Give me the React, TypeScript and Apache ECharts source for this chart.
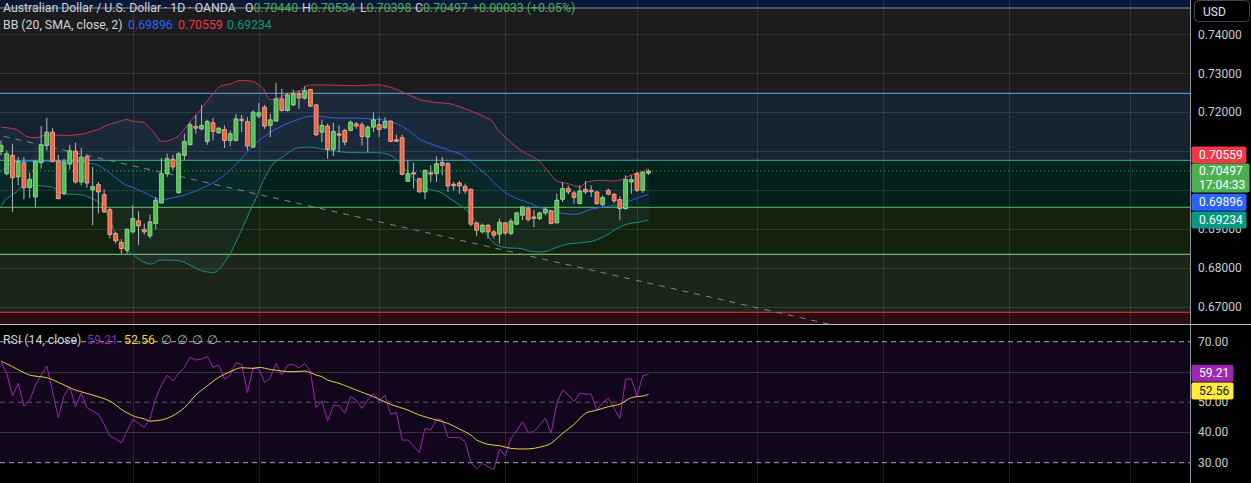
import React, { useEffect, useRef } from "react";
import * as echarts from "echarts";

// ---------- data ----------
const opens = [0.71000,0.70427,0.70897,0.70342,0.70709,0.70068,0.69829,0.70709,0.71154,0.71496,
0.70752,0.69915,0.70675,0.71009,0.70214,0.70863,0.70009,0.70145,0.69889,0.69504,
0.68889,0.68658,0.68462,0.68932,0.69214,0.68991,0.68829,0.69145,0.69675,0.70427,
0.70795,0.69940,0.70897,0.71171,0.71641,0.71581,0.71256,0.71735,0.71479,0.71564,
0.71282,0.71282,0.71829,0.71769,0.71111,0.71906,0.72137,0.71667,0.71778,0.72350,
0.72051,0.72196,0.72479,0.72368,0.72590,0.72196,0.71496,0.71649,0.71051,0.71453,
0.71539,0.71539,0.71709,0.71684,0.71368,0.71624,0.71684,0.71607,0.71778,0.71299,
0.71351,0.70231,0.70453,0.70299,0.69957,0.70453,0.70427,0.70718,0.70684,0.70154,
0.70188,0.70103,0.70026,0.69162,0.68932,0.69103,0.68932,0.68872,0.69162,0.68889,
0.69128,0.69359,0.69530,0.69316,0.69274,0.69419,0.69470,0.69162,0.69769,0.70043,
0.69932,0.69658,0.70026,0.70000,0.69957,0.69632,0.70000,0.69897,0.69761,0.69530,
0.70214,0.70427,0.70000,0.70440];
const closes = [0.71154,0.70940,0.70325,0.70743,0.70060,0.70282,0.70743,0.71171,0.71496,0.70743,
0.69786,0.70726,0.71017,0.70214,0.70855,0.70188,0.70094,0.69957,0.69444,0.68863,
0.68701,0.68504,0.69000,0.69274,0.69086,0.68932,0.69188,0.69744,0.70427,0.70812,
0.70598,0.70940,0.71256,0.71684,0.71598,0.71667,0.71769,0.71513,0.71598,0.71282,
0.71453,0.71838,0.71803,0.71137,0.72008,0.71991,0.71649,0.71812,0.72350,0.72051,
0.72453,0.72479,0.72376,0.72564,0.72162,0.71427,0.71667,0.71051,0.71513,0.71427,
0.71239,0.71752,0.71649,0.71384,0.71624,0.71812,0.71564,0.71769,0.71256,0.71282,
0.70410,0.70427,0.70427,0.69957,0.70513,0.70419,0.70684,0.70641,0.70111,0.70137,
0.70111,0.69983,0.69128,0.68974,0.69103,0.68932,0.68846,0.69179,0.68906,0.69205,
0.69419,0.69573,0.69248,0.69299,0.69419,0.69513,0.69145,0.69744,0.70043,0.69957,
0.69812,0.69983,0.69957,0.69983,0.69658,0.69812,0.69897,0.69726,0.69530,0.70274,
0.70274,0.70000,0.70464,0.70497];
const lows = [0.70897,0.70385,0.69444,0.70128,0.69769,0.69803,0.69573,0.70556,0.71026,0.70709,
0.69769,0.69872,0.70539,0.70171,0.70128,0.70068,0.69103,0.69402,0.69419,0.68761,
0.68632,0.68376,0.68376,0.68889,0.68590,0.68863,0.68761,0.69000,0.69658,0.70342,
0.70513,0.69915,0.70769,0.71154,0.71453,0.71539,0.71171,0.71282,0.71453,0.71086,
0.71137,0.71256,0.71496,0.71026,0.71086,0.71855,0.71581,0.71368,0.71769,0.72026,
0.72026,0.72162,0.72094,0.72333,0.72137,0.71393,0.71239,0.70812,0.70880,0.70983,
0.71154,0.71513,0.71581,0.71154,0.70983,0.71496,0.71368,0.71581,0.71239,0.71239,
0.70385,0.70214,0.70043,0.69940,0.69769,0.70214,0.70214,0.70385,0.69957,0.70000,
0.69915,0.69915,0.69077,0.68821,0.68889,0.68761,0.68761,0.68633,0.68846,0.68846,
0.69103,0.69231,0.69188,0.69060,0.69231,0.69359,0.69128,0.69145,0.69701,0.69897,
0.69658,0.69641,0.69897,0.69829,0.69632,0.69590,0.69872,0.69658,0.69231,0.69504,
0.69915,0.69957,0.69932,0.70398];
const highs = [0.71282,0.71026,0.71197,0.70855,0.70855,0.70453,0.70769,0.71649,0.71863,0.71598,
0.70915,0.70812,0.71171,0.71222,0.71086,0.70923,0.70598,0.70214,0.70026,0.69547,
0.68932,0.68744,0.69017,0.69616,0.69462,0.69145,0.69376,0.69829,0.70829,0.70940,
0.70915,0.70983,0.71453,0.71752,0.71940,0.72196,0.71812,0.71855,0.71624,0.71667,
0.71539,0.71966,0.71940,0.71880,0.72051,0.72248,0.72196,0.71966,0.72761,0.72607,
0.72504,0.72590,0.72564,0.72675,0.72607,0.72222,0.71821,0.71709,0.71735,0.71667,
0.71581,0.71795,0.71752,0.71752,0.71667,0.72008,0.71880,0.71880,0.71795,0.71427,
0.71427,0.70769,0.70709,0.70316,0.70530,0.70641,0.70872,0.70855,0.70726,0.70214,
0.70239,0.70171,0.70043,0.69188,0.69145,0.69128,0.68974,0.69274,0.69188,0.69274,
0.69444,0.69590,0.69590,0.69487,0.69444,0.69573,0.69487,0.69915,0.70214,0.70128,
0.69983,0.70128,0.70239,0.70128,0.69983,0.69872,0.70043,0.69932,0.69846,0.70385,
0.70385,0.70470,0.70470,0.70534];

const bbUpper = [[1,0.71623],[3.7,0.71564],[5.5,0.71385],[7.2,0.71351],[9,0.71428],[12.5,0.71410],[15.4,0.71454],[18.3,0.71582],[19.4,0.71667],[21.2,0.71751],[22.9,0.71821],[24.1,0.71769],[25.8,0.71751],[27.6,0.71495],[29,0.71256],[29.9,0.71264],[31.7,0.71367],[32.8,0.71538],[34.3,0.71821],[35.7,0.72051],[37.5,0.72392],[39.2,0.72670],[41,0.72736],[42.7,0.72821],[45,0.72795],[46.8,0.72608],[47.9,0.72333],[49.1,0.72351],[50.9,0.72479],[53.2,0.72564],[54.4,0.72692],[56.7,0.72710],[62.5,0.72692],[67.1,0.72710],[69.5,0.72623],[71.8,0.72479],[74.1,0.72333],[76.4,0.72264],[79.4,0.72223],[82.8,0.72051],[86.6,0.71795],[87.8,0.71538],[89.3,0.71326],[91,0.71110],[92.7,0.70941],[93.9,0.70854],[95.1,0.70726],[96.8,0.70428],[98,0.70239],[100,0.70172],[102,0.70085],[103.2,0.70213],[105.5,0.70256],[107.9,0.70239],[109.3,0.70274],[110.2,0.70341],[111.9,0.70444],[113.1,0.70495],[114,0.70559]];
const bbBasis = [[1,0.70469],[2,0.70623],[3.7,0.70744],[6.6,0.70744],[9.6,0.70744],[12.5,0.70744],[15.4,0.70710],[17.7,0.70659],[19.4,0.70513],[21.2,0.70300],[22.9,0.70128],[24.1,0.70069],[26.4,0.69915],[28.2,0.69787],[29.3,0.69762],[31.1,0.69813],[32.8,0.69872],[34.6,0.69956],[36.3,0.70069],[38.1,0.70197],[39.8,0.70370],[41,0.70513],[42.7,0.70769],[45,0.71154],[46.8,0.71367],[48.5,0.71538],[50.9,0.71710],[53.2,0.71838],[55,0.71905],[56.7,0.71897],[59.6,0.71854],[62.5,0.71854],[65.4,0.71838],[68.4,0.71795],[70.7,0.71667],[72.5,0.71495],[74.1,0.71308],[76.4,0.71172],[79.4,0.71020],[81.1,0.70941],[83.4,0.70685],[85.8,0.70385],[87.5,0.70128],[89.3,0.69915],[91,0.69787],[92.7,0.69700],[95.1,0.69556],[96.8,0.69487],[98.6,0.69418],[100.9,0.69385],[102,0.69402],[103.8,0.69505],[105.5,0.69556],[107.9,0.69608],[109.6,0.69659],[111.4,0.69762],[112.5,0.69828],[114,0.69896]];
const bbLower = [[1,0.69572],[1.7,0.69744],[2.6,0.69846],[3.7,0.69956],[4.9,0.70128],[6.6,0.70128],[9,0.70103],[10.1,0.70069],[11.9,0.69915],[13.6,0.69897],[15.4,0.69872],[17.7,0.69726],[18.9,0.69572],[20,0.69231],[21.2,0.68803],[22.3,0.68546],[24.1,0.68333],[25.8,0.68162],[27.3,0.68103],[28.7,0.68205],[31.1,0.68205],[32.8,0.68162],[35.7,0.67949],[38.1,0.67880],[39.2,0.67992],[41,0.68377],[42.7,0.68890],[44.5,0.69487],[45.6,0.69828],[46.8,0.70256],[48.5,0.70685],[50.3,0.70872],[52,0.71051],[53.2,0.71095],[54.9,0.71110],[56.7,0.71069],[59.6,0.71000],[62.5,0.70967],[65.4,0.70967],[67.7,0.70956],[69.5,0.70854],[71.2,0.70597],[73,0.70300],[75.3,0.70044],[77.6,0.69956],[79.4,0.69787],[81.1,0.69615],[82.3,0.69487],[84.1,0.69146],[85.2,0.68974],[86.4,0.68736],[87.5,0.68590],[89.3,0.68521],[91.6,0.68505],[94,0.68418],[95.7,0.68418],[97.5,0.68505],[99.8,0.68615],[102,0.68649],[104.4,0.68700],[106.7,0.68846],[108.5,0.69018],[110.2,0.69128],[112.5,0.69187],[114,0.69234]];

const rsiValues = [63.39,59.53,52.15,56.23,48.73,50.72,55.67,58.98,61.96,53.47,
44.88,52.15,55.12,48.51,52.92,48.18,47.08,45.98,42.67,38.82,
37.82,36.61,40.47,44.33,43.00,41.68,44.66,51.27,55.67,58.98,
57.00,59.53,61.52,64.82,63.94,64.27,65.04,61.52,62.29,57.66,
58.98,63.06,62.51,53.14,61.40,60.96,56.56,58.10,62.84,58.98,
62.29,62.51,61.40,62.84,60.08,48.18,50.39,43.88,49.06,48.84,
46.31,51.82,50.72,47.96,50.72,52.92,50.39,52.37,45.98,46.64,
37.49,37.49,35.51,33.31,41.35,40.80,44.44,44.11,38.37,38.37,
38.37,36.94,30.11,27.91,29.78,28.68,27.80,34.52,32.31,38.04,
40.47,43.55,40.03,40.25,42.45,44.66,39.70,49.61,54.02,52.37,
50.17,52.92,52.70,52.59,47.41,49.94,51.27,47.96,44.66,57.66,
57.66,52.04,58.76,59.21];
const rsiMa = [[1,63.61],[3,61.74],[6,58.98],[9,58.10],[11,56.56],[14,54.02],[17,52.37],[20,50.39],[22,47.63],[24,45.54],[26,44.44],[27,43.77],[29,44.11],[31,45.54],[33,48.18],[35,52.37],[37,55.45],[39,58.21],[41,60.08],[43,61.40],[45,61.18],[46,61.52],[48,60.85],[50,60.30],[52,60.08],[54,60.30],[56,58.98],[57,58.43],[58,57.33],[60,56.23],[63,54.02],[66,51.82],[69,49.28],[72,47.41],[74,45.76],[77,44.11],[79,43.00],[81,41.13],[83,39.15],[84,37.49],[86,36.06],[88,35.62],[90,34.74],[92,34.52],[94,34.74],[96,35.62],[97,36.39],[99,39.70],[101,42.67],[103,46.31],[105,47.41],[107,48.51],[109,49.39],[111,51.49],[113,52.04],[114,52.56]];

const trendLine = [[1.5, 0.71385], [145, 0.66576], [170, 0.65738]];
const zoneBounds = [0.74892, 0.746864, 0.724936, 0.707712, 0.69563, 0.683548, 0.668638, 0.66563];
const zoneLineLevels = [0.746864, 0.724936, 0.707712, 0.69563, 0.683548, 0.668638];
const priceGridTicks = [0.67, 0.68, 0.69, 0.70, 0.71, 0.72, 0.73, 0.74];
// 0.71000 and 0.70000 sit under the price tags in the reference and are not shown there
const priceLabelTicks = [0.67, 0.68, 0.69, 0.72, 0.73, 0.74];
// 60.00 sits under the RSI tag in the reference
const rsiLabelTicks = [30, 40, 50, 70];
const rsiGridTicks = [40, 60];
const rsiLevels = [70, 50, 30];
const timeGridIdx = [24, 46, 67, 89, 112, 133, 155, 177, 198];
const lastPrice = 0.70497;
const priceTagValues = [0.70559, 0.70497, 0.69896, 0.69234];
const rsiTagValues = [59.21, 52.56];

// ---------- styles / layout ----------
const FONT = "Roboto, 'DejaVu Sans', sans-serif";
const HFONT = "12.3px " + FONT;
const X_MIN = 0.8255, X_MAX = 208.5;
const P_MIN = 0.66563, P_MAX = 0.74892;
const R_MIN = 23.29, R_MAX = 75.52;
const GRID_COLOR = "rgba(255,255,255,0.10)";
const zoneColors = ["#0a1838", "#1c1c1f", "#152230", "#04201c", "#12220f", "#1b2619", "#2a0d10"];
const zoneLineColors = ["#8a90a2", "#62ace6", "#2fb49a", "#5fc45a", "#8fd28a", "#e5323c"];
const rsiLevelStyles = [{ c: "#a9abb3" }, { c: "#5e5a68" }, { c: "#a9abb3" }];
const priceTagStyles = [
  { bg: "#f23645", fg: "#ffffff", dy: -13.5, w: 55 },
  { bg: "#4caf50", fg: "#ffffff", dy: 0, w: 58, sub: "17:04:33" },
  { bg: "#2962ff", fg: "#ffffff", dy: 8, w: 55 },
  { bg: "#089981", fg: "#ffffff", dy: 0, w: 55 },
];
const rsiTagStyles = [
  { bg: "#9c27b0", fg: "#ffffff", dy: -1, w: 42 },
  { bg: "#ffeb3b", fg: "#131722", dy: -3.5, w: 42 },
];
const GREEN = "#4caf50";
const headerSegments = [
  { x: 3, y: 7.5, parts: [["Australian Dollar / U.S. Dollar · 1D · OANDA", "#d1d4dc"]] },
  { x: 245, y: 7.5, parts: [["O", "#d1d4dc"], ["0.70440", GREEN]] },
  { x: 302, y: 7.5, parts: [["H", "#d1d4dc"], ["0.70534", GREEN]] },
  { x: 360, y: 7.5, parts: [["L", "#d1d4dc"], ["0.70398", GREEN]] },
  { x: 415, y: 7.5, parts: [["C", "#d1d4dc"], ["0.70497", GREEN]] },
  { x: 472, y: 7.5, parts: [["+0.00033 (+0.05%)", GREEN]] },
  { x: 3, y: 25, parts: [["BB (20, SMA, close, 2)", "#d1d4dc"]] },
  { x: 128, y: 25, parts: [["0.69896", "#2962ff"]] },
  { x: 178, y: 25, parts: [["0.70559", "#f23645"]] },
  { x: 227, y: 25, parts: [["0.69234", "#089981"]] },
  { x: 3, y: 340, parts: [["RSI (14, close)", "#d1d4dc"]] },
  { x: 87, y: 340, parts: [["59.21", "#9c27b0"]] },
  { x: 124, y: 340, parts: [["52.56", "#f5dd2c"]] },
  { x: 161, y: 340, parts: [["∅", "#b2b5be"]] },
  { x: 177, y: 340, parts: [["∅", "#b2b5be"]] },
  { x: 192, y: 340, parts: [["∅", "#b2b5be"]] },
  { x: 207, y: 340, parts: [["∅", "#b2b5be"]] },
];

function buildHeader() {
  return headerSegments.map((seg) => {
    const rich: any = {};
    let text = "";
    seg.parts.forEach((p, k) => {
      rich["p" + k] = { fill: p[1], font: HFONT };
      text += "{p" + k + "|" + p[0] + "}";
    });
    return {
      type: "text",
      x: seg.x,
      y: seg.y,
      z: 100,
      silent: true,
      style: { text, rich, font: HFONT, verticalAlign: "middle" },
    };
  });
}

function tagSeries(values: number[], styles: any[], axisIdx: number, digits: number) {
  return {
    type: "custom",
    xAxisIndex: axisIdx,
    yAxisIndex: axisIdx,
    z: 20,
    clip: false,
    silent: true,
    data: values.map((v) => [X_MAX, v]),
    renderItem: (params: any, api: any) => {
      const cfg = styles[params.dataIndex];
      const v = api.value(1);
      const p = api.coord([api.value(0), v]);
      const cy = p[1] + cfg.dy;
      const h = cfg.sub ? 29 : 17;
      const top = cfg.sub ? cy - 7.5 : cy - 8.5;
      const children: any[] = [
        { type: "rect", shape: { x: p[0] + 1.5, y: top, width: cfg.w, height: h, r: 2 }, style: { fill: cfg.bg } },
        { type: "text", style: { x: p[0] + 9, y: cfg.sub ? top + 7.5 : cy, text: v.toFixed(digits), fill: cfg.fg, font: "12px " + FONT, verticalAlign: "middle" } },
      ];
      if (cfg.sub) {
        children.push({ type: "text", style: { x: p[0] + 9, y: top + 22, text: cfg.sub, fill: cfg.fg, font: "12px " + FONT, verticalAlign: "middle" } });
      }
      return { type: "group", children };
    },
  };
}

export default function App() {
  const ref = useRef<HTMLDivElement>(null);
  useEffect(() => {
    document.body.style.margin = "0";
    document.body.style.background = "#000";
    if (!ref.current) return;
    const chart = echarts.init(ref.current, null, { renderer: "svg" });
    const candleData = opens.map((o, k) => [k + 1, o, closes[k], lows[k], highs[k]]);
    const zoneData = zoneColors.map((_, k) => [X_MIN, zoneBounds[k], zoneBounds[k + 1]]);

    const option: any = {
      animation: false,
      backgroundColor: "#000000",
      grid: [
        { left: 0, top: 0, right: 61, height: 324 },
        { left: 0, top: 325, right: 61, height: 158 },
      ],
      xAxis: [0, 1].map((g) => ({
        type: "value",
        gridIndex: g,
        min: X_MIN,
        max: X_MAX,
        z: 1,
        axisLine: { show: false },
        axisTick: { show: false, customValues: timeGridIdx },
        axisLabel: { show: false },
        splitLine: { show: true, lineStyle: { color: GRID_COLOR, width: 1 } },
      })),
      yAxis: [
        {
          type: "value",
          gridIndex: 0,
          position: "right",
          min: P_MIN,
          max: P_MAX,
          z: 1,
          axisLine: { show: true, lineStyle: { color: "#8f929a" } },
          axisTick: { show: false, customValues: priceGridTicks },
          axisLabel: { customValues: priceLabelTicks, formatter: (v: number) => v.toFixed(5), color: "#c9ccd2", fontSize: 12, fontFamily: FONT, margin: 8 },
          splitLine: { show: true, lineStyle: { color: GRID_COLOR } },
        },
        {
          type: "value",
          gridIndex: 1,
          position: "right",
          min: R_MIN,
          max: R_MAX,
          z: 1,
          axisLine: { show: true, lineStyle: { color: "#8f929a" } },
          axisTick: { show: false, customValues: rsiGridTicks },
          axisLabel: { customValues: rsiLabelTicks, formatter: (v: number) => v.toFixed(2), color: "#c9ccd2", fontSize: 12, fontFamily: FONT, margin: 8 },
          splitLine: { show: true, lineStyle: { color: "rgba(255,255,255,0.16)" } },
        },
      ],
      graphic: [
        ...buildHeader(),
        { type: "rect", z: 100, silent: true, shape: { x: 1194.5, y: 0.5, width: 55, height: 21, r: 4 }, style: { fill: "#000", stroke: "#434651", lineWidth: 1 } },
        { type: "text", z: 101, silent: true, x: 1203, y: 11.5, style: { text: "USD", fill: "#e0e3eb", font: "12px " + FONT, verticalAlign: "middle" } },
        { type: "line", z: 100, silent: true, shape: { x1: 0, y1: 324.5, x2: 1251, y2: 324.5 }, style: { stroke: "#b9bcc4", lineWidth: 1 } },
      ],
      series: [
        // background zones
        {
          type: "custom", xAxisIndex: 0, yAxisIndex: 0, z: 0, silent: true,
          data: zoneData,
          renderItem: (params: any, api: any) => {
            const a = api.coord([X_MIN, api.value(1)]);
            const b = api.coord([X_MAX, api.value(2)]);
            return { type: "rect", shape: { x: a[0], y: a[1], width: b[0] - a[0], height: b[1] - a[1] }, style: { fill: zoneColors[params.dataIndex] } };
          },
        },
        {
          type: "custom", xAxisIndex: 0, yAxisIndex: 0, z: 1.5, silent: true,
          data: zoneLineLevels.map((v) => [X_MIN, v]),
          renderItem: (params: any, api: any) => {
            const a = api.coord([X_MIN, api.value(1)]);
            const b = api.coord([X_MAX, api.value(1)]);
            return { type: "line", shape: { x1: a[0], y1: a[1], x2: b[0], y2: b[1] }, style: { stroke: zoneLineColors[params.dataIndex], lineWidth: 1 } };
          },
        },
        // Bollinger fill
        {
          type: "custom", xAxisIndex: 0, yAxisIndex: 0, z: 2, silent: true,
          data: [[1, 0.7]],
          renderItem: (params: any, api: any) => {
            const pts = bbUpper.map((p) => api.coord(p)).concat(bbLower.slice().reverse().map((p) => api.coord(p)));
            return { type: "polygon", shape: { points: pts, smooth: 0.2 }, style: { fill: "rgba(120,160,210,0.07)" } };
          },
        },
        { type: "line", xAxisIndex: 0, yAxisIndex: 0, z: 3, data: bbUpper, showSymbol: false, smooth: 0.25, silent: true, lineStyle: { color: "#c23a48", width: 1 } },
        { type: "line", xAxisIndex: 0, yAxisIndex: 0, z: 3, data: bbBasis, showSymbol: false, smooth: 0.25, silent: true, lineStyle: { color: "#2f63e6", width: 1 } },
        { type: "line", xAxisIndex: 0, yAxisIndex: 0, z: 3, data: bbLower, showSymbol: false, smooth: 0.25, silent: true, lineStyle: { color: "#14937c", width: 1 } },
        // trend line
        { type: "line", xAxisIndex: 0, yAxisIndex: 0, z: 3, data: trendLine, showSymbol: false, silent: true, clip: true, lineStyle: { color: "#80848d", width: 1, type: [6, 6] } },
        // last price dotted line
        {
          type: "custom", xAxisIndex: 0, yAxisIndex: 0, z: 3, silent: true,
          data: [[X_MIN, lastPrice]],
          renderItem: (params: any, api: any) => {
            const a = api.coord([X_MIN, api.value(1)]);
            const b = api.coord([X_MAX, api.value(1)]);
            return { type: "line", shape: { x1: a[0], y1: a[1], x2: b[0], y2: b[1] }, style: { stroke: GREEN, lineWidth: 1, lineDash: [1, 3] } };
          },
        },
        // candles
        {
          type: "custom", xAxisIndex: 0, yAxisIndex: 0, z: 5, silent: true,
          data: candleData,
          encode: { x: 0, y: [1, 2, 3, 4] },
          renderItem: (params: any, api: any) => {
            const i = api.value(0), o = api.value(1), c = api.value(2), l = api.value(3), h = api.value(4);
            const po = api.coord([i, o]), pc = api.coord([i, c]), pl = api.coord([i, l]), ph = api.coord([i, h]);
            const bw = api.size([1, 0])[0] * 0.68;
            const up = c >= o;
            const top = Math.min(po[1], pc[1]);
            const hgt = Math.max(Math.abs(po[1] - pc[1]), 1.5);
            return {
              type: "group",
              children: [
                { type: "line", shape: { x1: ph[0], y1: ph[1], x2: pl[0], y2: pl[1] }, style: { stroke: "#b4b7bd", lineWidth: 1 } },
                { type: "rect", shape: { x: po[0] - bw / 2, y: top, width: bw, height: hgt }, style: { fill: up ? "#4fbf4f" : "#f0643f", stroke: up ? "#a2e39c" : "#ffb19b", lineWidth: 0.8 } },
              ],
            };
          },
        },
        tagSeries(priceTagValues, priceTagStyles, 0, 5),
        // RSI pane
        {
          type: "custom", xAxisIndex: 1, yAxisIndex: 1, z: 0, silent: true,
          data: [[X_MIN, 70, 30]],
          renderItem: (params: any, api: any) => {
            const a = api.coord([X_MIN, api.value(1)]);
            const b = api.coord([X_MAX, api.value(2)]);
            return { type: "rect", shape: { x: a[0], y: a[1], width: b[0] - a[0], height: b[1] - a[1] }, style: { fill: "#12061d" } };
          },
        },
        {
          type: "custom", xAxisIndex: 1, yAxisIndex: 1, z: 1.5, silent: true,
          data: rsiLevels.map((v) => [X_MIN, v]),
          renderItem: (params: any, api: any) => {
            const a = api.coord([X_MIN, api.value(1)]);
            const b = api.coord([X_MAX, api.value(1)]);
            return { type: "line", shape: { x1: a[0], y1: a[1], x2: b[0], y2: b[1] }, style: { stroke: rsiLevelStyles[params.dataIndex].c, lineWidth: 1, lineDash: [5, 4] } };
          },
        },
        { type: "line", xAxisIndex: 1, yAxisIndex: 1, z: 3, data: rsiValues.map((v, k) => [k + 1, v]), showSymbol: false, silent: true, lineStyle: { color: "#9c27b0", width: 1 } },
        { type: "line", xAxisIndex: 1, yAxisIndex: 1, z: 4, data: rsiMa, showSymbol: false, smooth: 0.3, silent: true, lineStyle: { color: "#e8d23e", width: 1 } },
        tagSeries(rsiTagValues, rsiTagStyles, 1, 2),
      ],
    };
    chart.setOption(option);
    return () => chart.dispose();
  }, []);
  return <div ref={ref} style={{ width: 1251, height: 483, background: "#000" }} />;
}
